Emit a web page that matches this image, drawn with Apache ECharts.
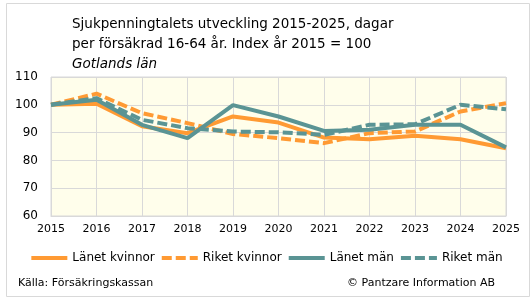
<!DOCTYPE html>
<html>
<head>
<meta charset="utf-8">
<script src="https://cdn.jsdelivr.net/npm/echarts@6/dist/echarts.min.js"></script>
<style>
html, body { margin:0; padding:0; background:#fff; }
#chart { width:532px; height:302px; }
</style>
</head>
<body>
<div id="chart"></div>
<script>
var years = ['2015','2016','2017','2018','2019','2020','2021','2022','2023','2024','2025'];
var lanetKvinnor = [100, 100.4, 92.3, 89.8, 95.8, 93.6, 88.2, 87.6, 88.9, 87.6, 84.4];
var riketKvinnor = [100, 104, 97, 93.4, 89.5, 88, 86.2, 89.8, 90.4, 97.6, 100.6];
var lanetMan = [100, 101.8, 92.8, 88, 99.9, 95.8, 90.6, 91, 92.8, 92.8, 84.7];
var riketMan = [100, 102.4, 94.6, 91.6, 90.4, 90.1, 89.2, 92.8, 93, 100, 98.4];
var seriesNames = ['Länet kvinnor', 'Riket kvinnor', 'Länet män', 'Riket män'];

var font = 'DejaVu Sans, Verdana, sans-serif';
var orange = '#ff9a33';
var teal = '#5a9494';

var mychart = echarts.init(document.getElementById('chart'));

function lineSeries(name, data, color, dashed) {
	return {
		name: name,
		type: 'line',
		symbol: 'none',
		data: data,
		lineStyle: {
			color: color,
			width: 4,
			type: dashed ? [10, 4] : 'solid'
		},
		itemStyle: { color: color }
	};
}

var option = {
	animation: false,
	title: {
		left: 72,
		top: 14,
		padding: 0,
		text: '{a|Sjukpenningtalets utveckling 2015-2025, dagar}\n{a|per försäkrad 16-64 år. Index år 2015 = 100}\n{b|Gotlands län}',
		textStyle: {
			fontWeight: 'normal',
			rich: {
				a: { fontFamily: font, fontSize: 13.5, fontWeight: 'normal', color: '#000', lineHeight: 20 },
				b: { fontFamily: font, fontSize: 13.5, fontWeight: 'normal', color: '#000', lineHeight: 20, fontStyle: 'italic' }
			}
		}
	},
	grid: {
		left: 51,
		right: 26,
		top: 77,
		bottom: 86,
		show: true,
		backgroundColor: '#fffeeb',
		borderColor: '#d9d9d9',
		borderWidth: 1
	},
	legend: {
		bottom: 33,
		left: 'center',
		itemWidth: 36,
		itemHeight: 4,
		itemGap: 5,
		data: seriesNames,
		itemStyle: { opacity: 0 },
		lineStyle: { width: 4 },
		textStyle: { fontFamily: font, fontSize: 12, color: '#000' }
	},
	xAxis: {
		type: 'category',
		boundaryGap: false,
		data: years,
		axisLine: { lineStyle: { color: '#d9d9d9' } },
		axisTick: { show: false },
		axisLabel: { color: '#000', fontFamily: font, fontSize: 11, margin: 8 },
		splitLine: { show: true, lineStyle: { color: '#d9d9d9' } }
	},
	yAxis: {
		type: 'value',
		min: 60,
		max: 110,
		interval: 10,
		axisLine: { show: false },
		axisTick: { show: false },
		axisLabel: { color: '#000', fontFamily: font, fontSize: 12, margin: 13 },
		splitLine: { show: true, lineStyle: { color: '#d9d9d9' } }
	},
	graphic: [
		{
			type: 'rect',
			shape: { x: 6.5, y: 3.5, width: 523, height: 293 },
			style: { fill: 'none', stroke: '#d9d9d9', lineWidth: 1 },
			silent: true
		},
		{
			type: 'text',
			left: 18,
			top: 278,
			style: { text: 'Källa: Försäkringskassan', font: '11px ' + font, fill: '#000' }
		},
		{
			type: 'text',
			right: 37,
			top: 278,
			style: { text: '© Pantzare Information AB', font: '11px ' + font, fill: '#000' }
		}
	],
	series: [
		lineSeries(seriesNames[0], lanetKvinnor, orange, false),
		lineSeries(seriesNames[1], riketKvinnor, orange, true),
		lineSeries(seriesNames[2], lanetMan, teal, false),
		lineSeries(seriesNames[3], riketMan, teal, true)
	]
};
mychart.setOption(option, true);
</script>
</body>
</html>
